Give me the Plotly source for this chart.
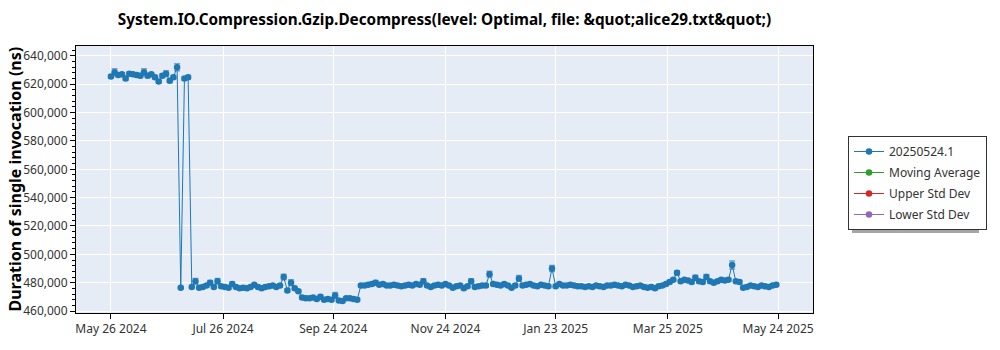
import plotly.graph_objects as go
import pandas as pd

# ---- data ----
start_date = "2024-05-26"
step_days = 2

durations_ns = [
    # upper phase (May 26 - Jul 7 2024)
    625500, 628500, 626500, 627000, 624000, 627500, 627000, 626500, 626000, 628500,
    626000, 627000, 625000, 622000, 626000, 627500, 622500, 625000, 632000, 476500,
    624000, 625000,
    # lower phase
    477000, 481000, 476500, 477000, 478000, 480000, 477000, 481000, 477500, 477000,
    476500, 479000, 477000, 476000, 476500, 476000, 477000, 478500, 477000, 476000,
    477000, 477500, 478000, 477000, 478000, 484000, 474500, 480000, 476000, 474000,
    469500, 469000, 469000, 469500, 468500, 470000, 468000, 468500, 468000, 471000,
    467500, 467000, 469000, 469000, 468500, 468000, 478000, 478000, 478500, 479000,
    480000, 478500, 479000, 478000, 478000, 478500, 478000, 477500, 478000, 478500,
    478000, 479000, 478500, 481000, 478000, 477000, 478000, 478500, 478000, 479000,
    478000, 476500, 477500, 478000, 476000, 477500, 481000, 477000, 477500, 478000,
    478000, 486000, 479000, 478500, 478000, 479000, 478000, 476500, 478000, 483000,
    478000, 478500, 479000, 478000, 477500, 478500, 478000, 477500, 490000, 477500,
    479000, 478000, 478000, 478500, 478000, 477500, 477500, 477000, 477500, 477000,
    478000, 477500, 477000, 478000, 478000, 478500, 478000, 477500, 478500, 478000,
    477000, 477500, 478000, 477000, 476500, 477000, 476000, 477500, 478000, 479000,
    480500, 482000, 487000, 481000, 482000, 481500, 480500, 483500, 481000, 480500,
    484000, 481000, 480000, 481000, 482000, 481500, 482000, 492500, 481000, 480500,
    476500, 477000, 478000, 477500, 477000, 478000, 477500, 477000, 478000, 478500,
]

errors_ns = [
    1200, 2500, 1200, 1200, 1200, 1200, 1200, 1200, 1200, 2500,
    1200, 1200, 1200, 1200, 1200, 2000, 1200, 1200, 2500, 800,
    1200, 1200,
    1000, 2000, 1000, 1000, 1000, 1500, 1000, 2000, 1000, 1000,
    1000, 1500, 1000, 1000, 1000, 1000, 1000, 1000, 1000, 1000,
    1000, 1000, 1000, 1000, 1000, 2000, 1000, 2000, 1000, 1000,
    1000, 1000, 1000, 1000, 1000, 1500, 1000, 1000, 1000, 2000,
    1000, 1000, 1000, 1000, 1000, 1000, 1000, 1000, 1000, 1000,
    1500, 1000, 1000, 1000, 1000, 1000, 1000, 1000, 1000, 1000,
    1000, 1000, 1000, 1800, 1000, 1000, 1000, 1000, 1000, 1000,
    1000, 1000, 1000, 1000, 1000, 1000, 1800, 1000, 1000, 1000,
    1000, 2000, 1000, 1000, 1000, 1000, 1000, 1000, 1000, 2000,
    1000, 1000, 1000, 1000, 1000, 1000, 1000, 1000, 2200, 1000,
    1000, 1000, 1000, 1000, 1000, 1000, 1000, 1000, 1000, 1000,
    1000, 1000, 1000, 1000, 1000, 1000, 1000, 1000, 1000, 1000,
    1000, 1000, 1000, 1000, 1000, 1000, 1000, 1000, 1000, 1000,
    1000, 1000, 1500, 1000, 1000, 1000, 1000, 1800, 1000, 1000,
    1800, 1000, 1000, 1000, 1000, 1000, 1000, 2800, 1000, 1000,
    1000, 1000, 1000, 1000, 1000, 1000, 1000, 1000, 1000, 1000,
]

dates = pd.date_range(start_date, periods=len(durations_ns), freq=f"{step_days}D")

tick_dates = ["2024-05-26", "2024-07-26", "2024-09-24", "2024-11-24",
              "2025-01-23", "2025-03-25", "2025-05-24"]
tick_labels = ["May 26 2024", "Jul 26 2024", "Sep 24 2024", "Nov 24 2024",
               "Jan 23 2025", "Mar 25 2025", "May 24 2025"]

series_names = ["20250524.1", "Moving Average", "Upper Std Dev", "Lower Std Dev"]
series_colors = ["#1f77b4", "#2ca02c", "#d62728", "#9467bd"]

title_text = "System.IO.Compression.Gzip.Decompress(level: Optimal, file: &amp;quot;alice29.txt&amp;quot;)"
y_title = "Duration of single invocation (ns)"

FONT = "Noto Sans"
MARKER = 6.5

fig = go.Figure()
fig.add_trace(go.Scatter(
    x=dates, y=durations_ns, mode="lines+markers", name=series_names[0],
    legendgroup="g0",
    line=dict(color=series_colors[0], width=1),
    marker=dict(color=series_colors[0], size=MARKER),
    error_y=dict(type="data", array=errors_ns, visible=True,
                 color="rgba(31,119,180,0.6)", thickness=1.5, width=3),
))
for i, (nm, col) in enumerate(zip(series_names[1:], series_colors[1:]), start=1):
    fig.add_trace(go.Scatter(x=[None], y=[None], mode="lines+markers", name=nm,
                             legendgroup=f"g{i}",
                             line=dict(color=col, width=1), marker=dict(color=col, size=MARKER)))

L, R, T, B = 76, 187, 46, 37
PW, PH = 1000 - L - R, 350 - T - B

def px_x(x):
    return (x - L) / PW

def px_y(y):
    return (350 - B - y) / PH

# legend drop shadow
fig.add_shape(type="rect", xref="paper", yref="paper",
              x0=px_x(852), x1=px_x(979), y0=px_y(233), y1=px_y(141),
              fillcolor="#a5a5a5", line=dict(width=0), layer="above")

fig.add_annotation(text=y_title, xref="paper", yref="paper",
                   x=px_x(14), y=0.5, xanchor="center", yanchor="middle",
                   textangle=-90, showarrow=False,
                   font=dict(family=FONT, size=16, color="black", weight="bold"))

fig.update_layout(
    width=1000, height=350,
    margin=dict(l=L, r=R, t=T, b=B),
    paper_bgcolor="white", plot_bgcolor="#E5ECF6",
    font=dict(family=FONT, size=12, color="#222"),
    title=dict(text=title_text, x=0.5, xref="paper", xanchor="center",
               y=1 - 20 / 350, yanchor="middle",
               font=dict(family=FONT, size=15.3, color="black", weight="bold")),
    showlegend=True,
    legend=dict(x=px_x(848), y=px_y(136), xanchor="left", yanchor="top",
                bgcolor="white", bordercolor="#333", borderwidth=1,
                tracegroupgap=2,
                font=dict(family=FONT, size=12, color="#333")),
)
fig.update_xaxes(
    range=["2024-05-07", "2025-06-12"], automargin=False,
    tickvals=tick_dates, ticktext=tick_labels,
    showgrid=True, gridcolor="white", gridwidth=1,
    showline=True, linecolor="black", linewidth=1, mirror=True,
    ticks="outside", ticklen=5, tickcolor="black",
    tickfont=dict(family=FONT, size=12, color="#333"),
)
fig.update_yaxes(
    range=[458600, 647000], dtick=20000, tickformat=",d", automargin=False,
    showgrid=True, gridcolor="white", gridwidth=1,
    showline=True, linecolor="black", linewidth=1, mirror=True,
    ticks="outside", ticklen=5, tickcolor="black",
    tickfont=dict(family=FONT, size=12, color="#333"),
    minor=dict(ticks="outside", ticklen=3, dtick=4000, tickcolor="black", showgrid=False),
    zeroline=False,
)

fig.write_html("out.html")
